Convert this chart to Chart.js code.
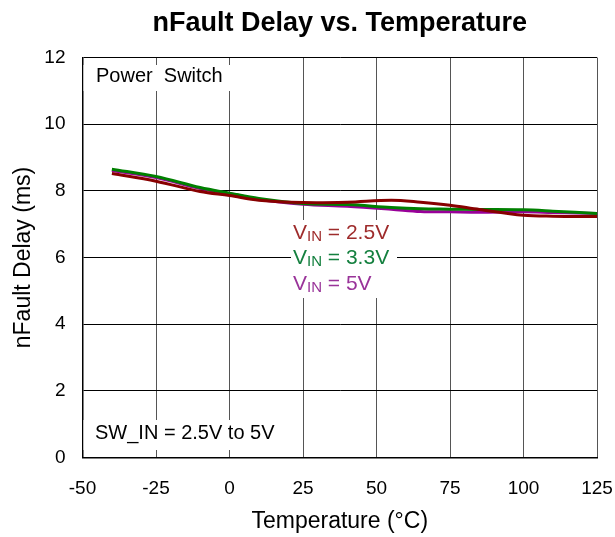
<!DOCTYPE html>
<html>
<head>
<meta charset="utf-8">
<script src="https://cdn.jsdelivr.net/npm/chart.js@4.4.1/dist/chart.umd.min.js"></script>
<style>
  body { margin: 0; background: #fff; }
  #wrap { width: 615px; height: 537px; }
</style>
</head>
<body>
<div id="wrap"><canvas id="delayChart" width="615" height="537"></canvas></div>
<script>
// Temperature points (°C)
const temps = [-40, -25, -10, 0, 10, 25, 40, 55, 65, 75, 85, 100, 110, 125];
// nFault delay (ms) per input voltage
const vin25 = [8.52, 8.29, 7.98, 7.86, 7.72, 7.65, 7.66, 7.72, 7.66, 7.57, 7.44, 7.27, 7.24, 7.23];
const vin33 = [8.65, 8.43, 8.10, 7.93, 7.77, 7.62, 7.59, 7.50, 7.46, 7.45, 7.44, 7.43, 7.39, 7.32];
const vin5 = [8.61, 8.40, 8.07, 7.92, 7.74, 7.60, 7.54, 7.45, 7.38, 7.37, 7.36, 7.37, 7.35, 7.32];
// axis ticks
const xTicks = [-50, -25, 0, 25, 50, 75, 100, 125];
const yTicks = [0, 2, 4, 6, 8, 10, 12];

const FONT = "'Liberation Sans', Arial, Helvetica, sans-serif";

function toPoints(vals) {
  return temps.map((t, i) => ({ x: t, y: vals[i] }));
}

// white text boxes drawn over the grid
const notesPlugin = {
  id: "notes",
  afterDraw(chart) {
    const ctx = chart.ctx;
    const area = chart.chartArea;
    ctx.save();
    ctx.fillStyle = "#fff";
    ctx.fillRect(area.left + 1, 65, 160, 26);
    ctx.fillRect(area.left + 1, 420, 206, 30);
    ctx.fillRect(291, 220, 106, 78);

    ctx.textBaseline = "middle";
    ctx.textAlign = "left";
    ctx.fillStyle = "#000";
    ctx.font = "20px " + FONT;
    ctx.fillText("Power  Switch", 96, 76);
    ctx.fillText("SW_IN = 2.5V to 5V", 95, 433);

    const rows = [
      { text: " = 2.5V", color: "#9e2b2b", y: 233 },
      { text: " = 3.3V", color: "#14803f", y: 258 },
      { text: " = 5V", color: "#993399", y: 284 },
    ];
    rows.forEach((r) => {
      let x = 293;
      ctx.fillStyle = r.color;
      ctx.font = "21px " + FONT;
      ctx.fillText("V", x, r.y);
      x += ctx.measureText("V").width;
      ctx.font = "15px " + FONT;
      ctx.fillText("IN", x, r.y + 4);
      x += ctx.measureText("IN").width;
      ctx.font = "21px " + FONT;
      ctx.fillText(r.text, x, r.y);
    });
    ctx.restore();
  },
};

document.addEventListener("DOMContentLoaded", function () {
  const ctx = document.getElementById("delayChart");
  new Chart(ctx, {
    type: "line",
    data: {
      datasets: [
        {
          label: "VIN = 2.5V",
          data: toPoints(vin25),
          borderColor: "#880000",
          borderWidth: 3,
          pointRadius: 0,
          tension: 0.35,
        },
        {
          label: "VIN = 3.3V",
          data: toPoints(vin33),
          borderColor: "#008000",
          borderWidth: 3,
          pointRadius: 0,
          tension: 0.35,
        },
        {
          label: "VIN = 5V",
          data: toPoints(vin5),
          borderColor: "#990099",
          borderWidth: 3,
          pointRadius: 0,
          tension: 0.35,
        },
      ],
    },
    options: {
      responsive: false,
      animation: false,
      layout: {
        padding: { left: 0, right: 18, top: 0, bottom: 0 },
      },
      plugins: {
        legend: { display: false },
        tooltip: { enabled: false },
        title: {
          display: true,
          text: "nFault Delay vs. Temperature",
          fullSize: false,
          color: "#000",
          font: { family: FONT, size: 27, weight: "bold", lineHeight: 1.2 },
          padding: { top: 7.5, bottom: 17.6 },
        },
      },
      scales: {
        x: {
          type: "linear",
          min: -50,
          max: 125,
          afterFit(scale) {
            scale.height = 79.5;
            scale.paddingLeft = 0;
            scale.paddingRight = 0;
          },
          afterBuildTicks(scale) {
            scale.ticks = xTicks.map((v) => ({ value: v }));
          },
          grid: { color: "#555", drawTicks: false, lineWidth: 1 },
          border: { color: "#000", width: 1.5 },
          ticks: {
            color: "#000",
            padding: 20,
            font: { family: FONT, size: 19 },
          },
          title: {
            display: true,
            text: "Temperature (°C)",
            color: "#000",
            font: { family: FONT, size: 23 },
            padding: { top: 0, bottom: 2 },
          },
        },
        y: {
          min: 0,
          max: 12,
          afterFit(scale) {
            scale.width = 82.5;
          },
          afterBuildTicks(scale) {
            scale.ticks = yTicks.map((v) => ({ value: v }));
          },
          grid: { color: "#000", drawTicks: false, lineWidth: 1 },
          border: { color: "#000", width: 1.5 },
          ticks: {
            color: "#000",
            padding: 17,
            font: { family: FONT, size: 19 },
          },
          title: {
            display: true,
            text: "nFault Delay (ms)",
            color: "#000",
            font: { family: FONT, size: 23 },
            padding: { top: 10, bottom: 0 },
          },
        },
      },
    },
    plugins: [notesPlugin],
  });
});
</script>
</body>
</html>
